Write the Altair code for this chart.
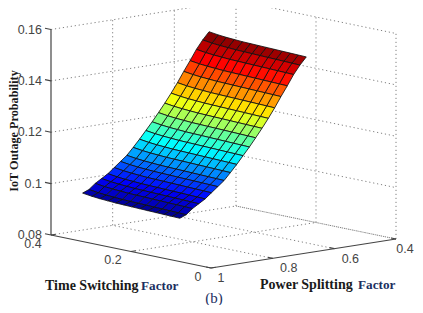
import altair as alt

# Data
time_values = [0.155, 0.175, 0.195, 0.215, 0.235, 0.255, 0.275, 0.295, 0.315, 0.335, 0.355, 0.375, 0.398]
power_values = [0.900, 0.8795, 0.859, 0.8385, 0.818, 0.7975, 0.777, 0.7565, 0.736, 0.7155, 0.695,
                0.6745, 0.654, 0.6335, 0.613, 0.5925, 0.572, 0.5515, 0.531, 0.5105, 0.490]
# outage probability along the far time edge, one per power value
z_edge = [0.0945, 0.0955, 0.0975, 0.0990, 0.1005, 0.1025, 0.1045, 0.1065, 0.1092, 0.1120, 0.1150,
          0.1180, 0.1212, 0.1245, 0.1280, 0.1317, 0.1357, 0.1395, 0.1435, 0.1468, 0.1496]
# change with time switching factor, one per time value
z_time_delta = [-0.0020, -0.0019, -0.0018, -0.0017, -0.0016, -0.0015, -0.0014,
                -0.0013, -0.0012, -0.0010, -0.0008, -0.0005, 0.0]
z_ticks = [0.08, 0.10, 0.12, 0.14, 0.16]
z_labels = ["0.08", "0.1", "0.12", "0.14", "0.16"]
time_ticks = [0.4, 0.2, 0.0]
time_labels = ["0.4", "0.2", "0"]
power_ticks = [1.0, 0.8, 0.6, 0.4]
power_labels = ["1", "0.8", "0.6", "0.4"]
jet_colors = ["#000080", "#0000ff", "#00ffff", "#ffff00", "#ff0000", "#800000"]


def project(t, p, z):
    """Orthographic view of the MATLAB box, in page pixels."""
    a, b, c = t / 0.4, (1 - p) / 0.6, (z - 0.08) / 0.08
    return [211 - 160 * a + 185 * b, 268 - 33 * a - 29 * b - 205.5 * c]


zs = [[ze + d for d in z_time_delta] for ze in z_edge]
zmin = min(min(r) for r in zs)
zmax = max(max(r) for r in zs)
jet_domain = [zmin + (zmax - zmin) * f for f in (0, 0.125, 0.375, 0.625, 0.875, 1)]

features = []
for i in range(len(power_values) - 1, 0, -1):
    for j in range(len(time_values) - 1):
        ring = [
            project(time_values[j], power_values[i], zs[i][j]),
            project(time_values[j + 1], power_values[i], zs[i][j + 1]),
            project(time_values[j + 1], power_values[i - 1], zs[i - 1][j + 1]),
            project(time_values[j], power_values[i - 1], zs[i - 1][j]),
        ]
        ring.append(ring[0])
        features.append({
            "type": "Feature",
            "properties": {"z": zs[i][j]},
            "geometry": {"type": "Polygon", "coordinates": [ring]},
        })

grid = []
axes = []


def seg(store, a, b):
    n = len(store)
    for order, pt in enumerate((a, b)):
        x, y = project(*pt)
        store.append({"x": x, "y": y, "g": n, "o": order})


for z in z_ticks:
    seg(grid, (0.4, 1, z), (0.4, 0.4, z))
    seg(grid, (0.4, 0.4, z), (0, 0.4, z))
for p in (0.8, 0.6, 0.4):
    seg(grid, (0.4, p, 0.08), (0.4, p, 0.16))
    seg(grid, (0, p, 0.08), (0.4, p, 0.08))
for t in (0.2, 0.0):
    seg(grid, (t, 0.4, 0.08), (t, 0.4, 0.16))
seg(grid, (0.2, 1, 0.08), (0.2, 0.4, 0.08))

seg(axes, (0.4, 1, 0.08), (0.4, 1, 0.16))
seg(axes, (0.4, 1, 0.08), (0, 1, 0.08))
seg(axes, (0, 1, 0.08), (0, 0.4, 0.08))
for z in z_ticks:
    seg(axes, (0.4, 1, z), (0.415, 1, z))
for t in time_ticks:
    seg(axes, (t, 1, 0.08), (t, 0.985, 0.08))
for p in power_ticks:
    seg(axes, (0, p, 0.08), (0.012, p, 0.08))

z_text = []
for z, lab in zip(z_ticks, z_labels):
    x, y = project(0.4, 1, z)
    z_text.append({"x": x - 9, "y": y, "t": lab})
base_text = []
for t, lab in zip(time_ticks, time_labels):
    x, y = project(t, 1, 0.08)
    base_text.append({"x": x - (13 if t == 0 else 18), "y": y + 8.5, "t": lab})
for p, lab in zip(power_ticks, power_labels):
    x, y = project(0, p, 0.08)
    base_text.append({"x": x + (10 if p == 1 else (9 if p == 0.4 else 16)), "y": y + 10, "t": lab})

X = alt.X("x:Q", scale=alt.Scale(domain=[8, 415], nice=False, zero=False), axis=None)
Y = alt.Y("y:Q", scale=alt.Scale(domain=[305, 8], nice=False, zero=False), axis=None)


def lines(values, **kw):
    return alt.Chart(alt.Data(values=values)).mark_line(**kw).encode(
        x=X, y=Y, detail="g:N", order="o:Q")


def label(text, x, y, align="left", font="Liberation Serif", size=14, weight="bold",
          color="#1a1a1a", angle=0):
    return alt.Chart(alt.Data(values=[{"x": x, "y": y, "t": text}])).mark_text(
        align=align, baseline="middle", font=font, fontSize=size, fontWeight=weight,
        color=color, angle=angle,
    ).encode(x=X, y=Y, text="t:N")


def tick_labels(values, align):
    return alt.Chart(alt.Data(values=values)).mark_text(
        align=align, baseline="middle", font="Liberation Sans", fontSize=12.5, color="#444444"
    ).encode(x=X, y=Y, text="t:N")


grid_layer = lines(grid, color="#808080", strokeWidth=1, strokeDash=[1.2, 2.8])
axes_layer = lines(axes, color="#444444", strokeWidth=1.2)

surface = alt.Chart(alt.Data(values=features)).mark_geoshape(
    stroke="#111111", strokeWidth=0.85
).encode(
    color=alt.Color("properties.z:Q",
                    scale=alt.Scale(domain=jet_domain, range=jet_colors, interpolate="rgb"),
                    legend=None)
).project(type="identity", scale=1, translate=[-8, -8])

chart = alt.layer(
    grid_layer, axes_layer, surface,
    tick_labels(z_text, "right"), tick_labels(base_text, "center"),
    label("Time Switching", 45, 286),
    label("Factor", 141, 286, size=13.2, color="#1c2f5f"),
    label("Power Splitting", 260, 285),
    label("Factor", 358, 285, size=13.2, color="#1c2f5f"),
    label("IoT Outage Probability", 14, 131, align="center", size=12.2, angle=270),
    label("(b)", 214, 298, align="center", size=15, weight="normal", color="#1c2f5f"),
).properties(width=407, height=297, padding=0, autosize="none", background="white"
).configure_view(stroke=None)

chart.save("out.html", embed_options={"renderer": "svg", "actions": False})
